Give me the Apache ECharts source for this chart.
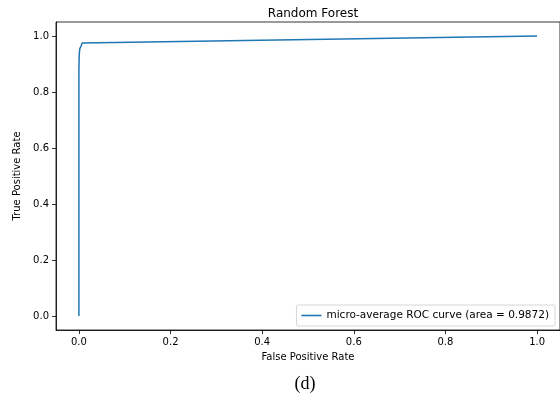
<!DOCTYPE html>
<html><head><meta charset="utf-8">
<script src="https://cdn.jsdelivr.net/npm/echarts@6/dist/echarts.min.js"></script>
<style>html,body{margin:0;padding:0;background:#fff}#c{width:560px;height:398px}</style>
</head><body><div id="c"></div>
<script>
const fpr = [0, 0, 0.0005, 0.001, 0.002, 0.003, 0.005, 0.007, 1.0];
const tpr = [0, 0.88, 0.92, 0.94, 0.955, 0.962, 0.965, 0.975, 1.0];
const xTicks = [0, 0.2, 0.4, 0.6, 0.8, 1.0];
const yTicks = [0, 0.2, 0.4, 0.6, 0.8, 1.0];
const seriesName = 'micro-average ROC curve (area = 0.9872)';
const chart = echarts.init(document.getElementById('c'), null, {renderer: 'canvas'});
const font = 'DejaVu Sans';
const axisCommon = {
  type: 'value', min: -0.05, max: 1.05,
  axisLine: {show: true, onZero: false, lineStyle: {color: '#000', width: 0.8}},
  axisTick: {show: true, length: 4, lineStyle: {color: '#000', width: 0.8}},
  splitLine: {show: false},
  nameLocation: 'middle',
  nameTextStyle: {fontFamily: font, fontSize: 10, color: '#000'}
};
chart.setOption({
  animation: false,
  title: {text: 'Random Forest', left: 308, top: 3, textAlign: 'center',
    textStyle: {fontFamily: font, fontSize: 12, fontWeight: 'normal', color: '#000'}},
  grid: {left: 56, top: 22, width: 505, height: 308, show: true, borderColor: '#000', borderWidth: 0.8},
  legend: {
    data: [seriesName], right: 5, top: 305, orient: 'vertical',
    backgroundColor: '#fff', borderColor: '#ccc', borderWidth: 0.8, borderRadius: 2,
    padding: [5, 6, 5, 5], itemWidth: 20, itemHeight: 8, itemGap: 5,
    icon: 'path://M0,3.2 L20,3.2 L20,4.8 L0,4.8 Z',
    textStyle: {fontFamily: font, fontSize: 10.5, color: '#000'}
  },
  xAxis: Object.assign({}, axisCommon, {
    name: 'False Positive Rate', nameGap: 22,
    axisTick: Object.assign({}, axisCommon.axisTick, {customValues: xTicks}),
    axisLabel: {customValues: xTicks, fontFamily: font, fontSize: 10, color: '#000', margin: 7,
      formatter: v => v.toFixed(1)}
  }),
  yAxis: Object.assign({}, axisCommon, {
    name: 'True Positive Rate', nameGap: 28,
    axisTick: Object.assign({}, axisCommon.axisTick, {customValues: yTicks}),
    axisLabel: {customValues: yTicks, fontFamily: font, fontSize: 10, color: '#000', margin: 7,
      formatter: v => v.toFixed(1)}
  }),
  series: [{
    name: seriesName, type: 'line', data: fpr.map((x, i) => [x, tpr[i]]),
    showSymbol: false, symbol: 'none', lineStyle: {color: '#1f77b4', width: 1.5},
    itemStyle: {color: '#1f77b4'}
  }],
  graphic: [{type: 'text', x: 305, y: 375,
    style: {text: '(d)', align: 'center', fontFamily: 'Liberation Serif', fontSize: 18, fill: '#000'}}]
});
</script></body></html>
